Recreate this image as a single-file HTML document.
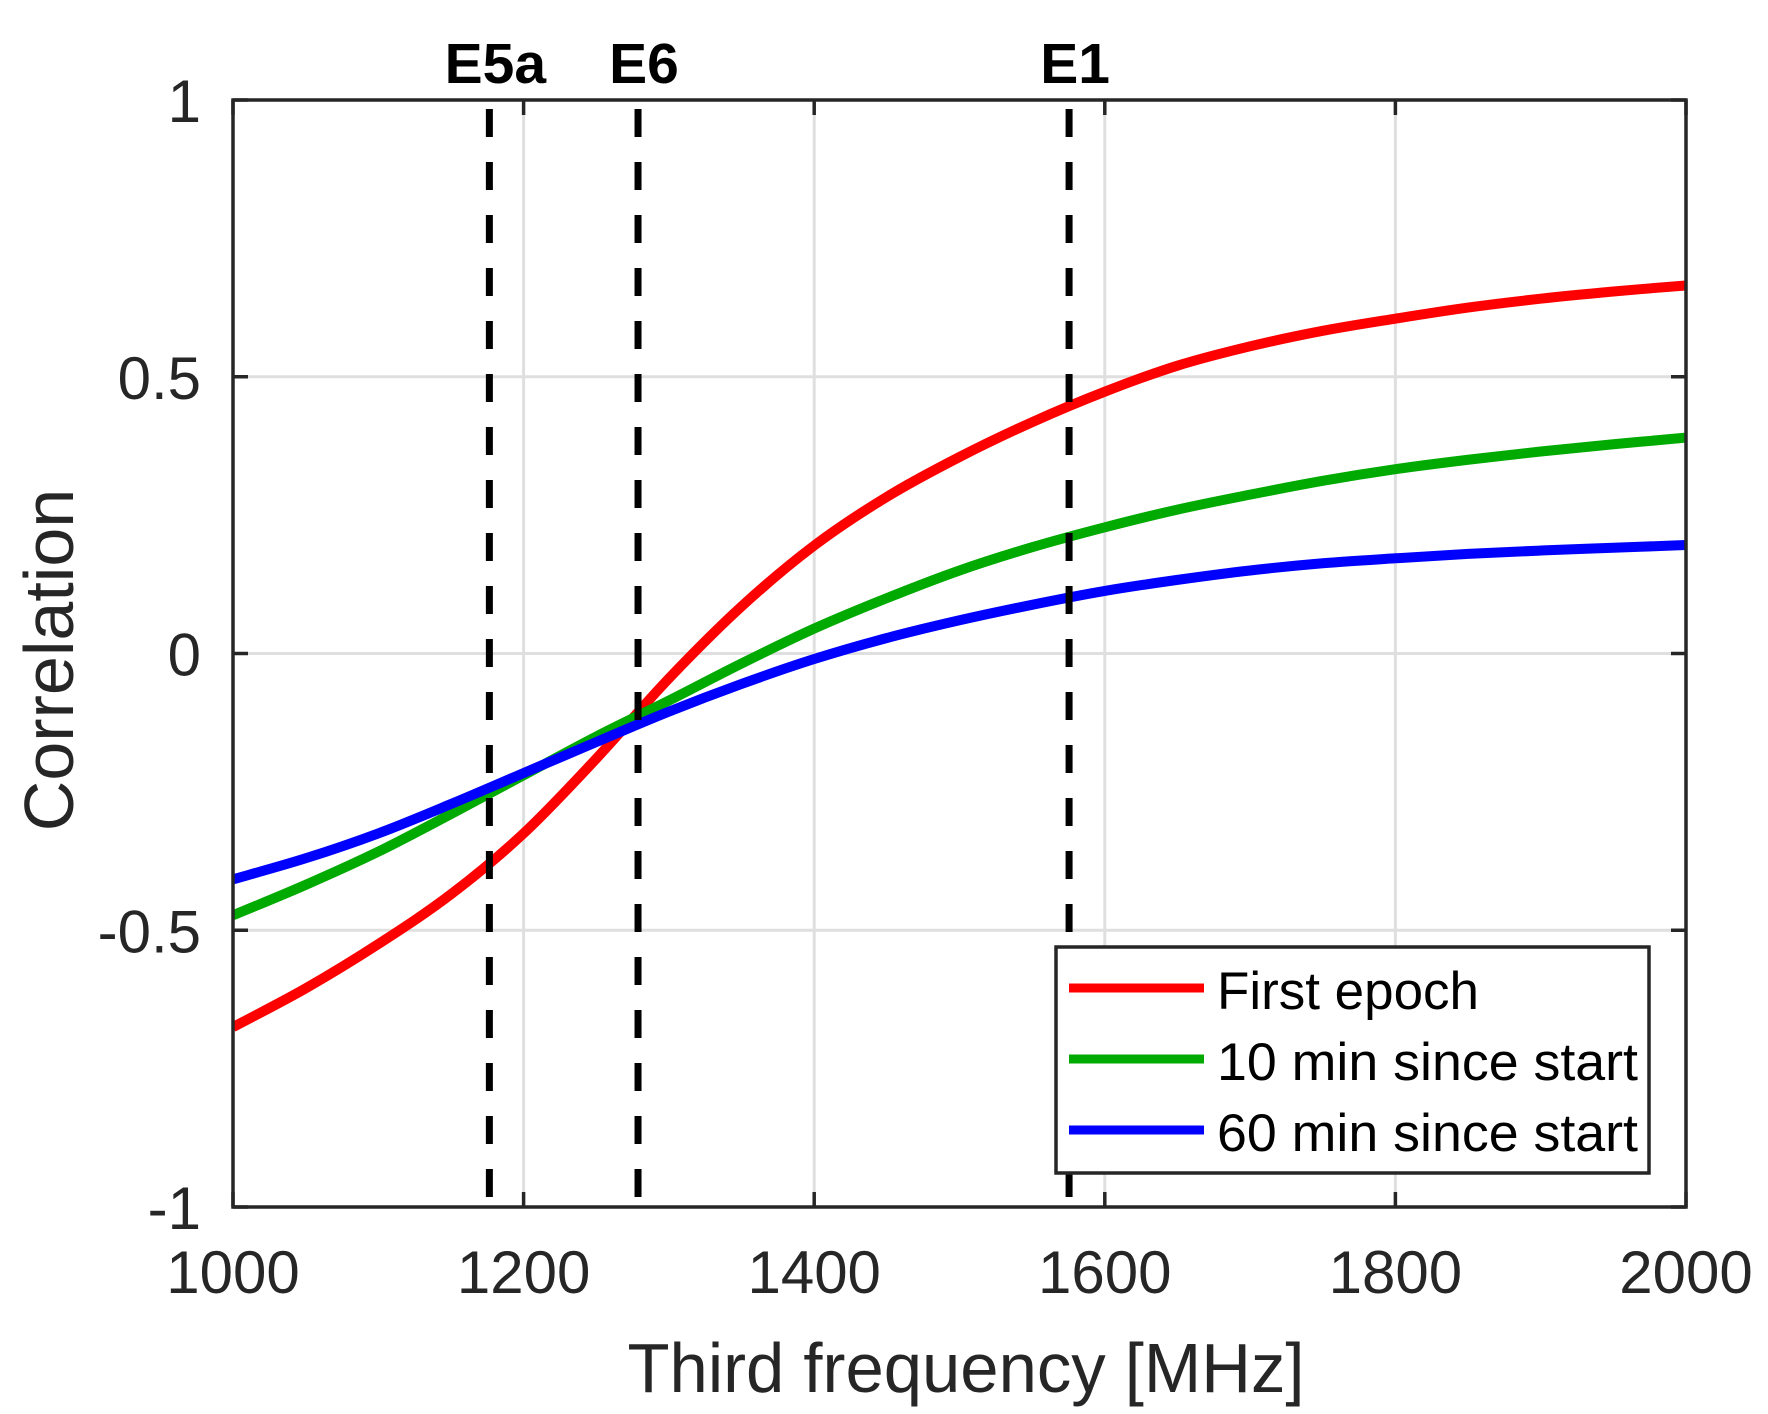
<!DOCTYPE html>
<html><head><meta charset="utf-8"><style>
html,body{margin:0;padding:0;background:#fff;}
svg{display:block;font-family:"Liberation Sans",Arial,sans-serif;}
</style></head><body>
<svg id="chart" width="1768" height="1414" viewBox="0 0 1768 1414" xmlns="http://www.w3.org/2000/svg"></svg>
<script>
const xCats = [1000,1050,1100,1150,1200,1250,1300,1350,1400,1450,1500,1550,1600,1650,1700,1750,1800,1850,1900,1950,2000];
const firstEpoch = [-0.675,-0.605,-0.525,-0.435,-0.325,-0.19,-0.045,0.085,0.195,0.283,0.355,0.418,0.473,0.52,0.555,0.583,0.605,0.625,0.641,0.654,0.665];
const min10 = [-0.473,-0.418,-0.358,-0.29,-0.22,-0.15,-0.085,-0.018,0.045,0.10,0.15,0.192,0.228,0.26,0.287,0.312,0.333,0.35,0.365,0.378,0.39];
const min60 = [-0.408,-0.37,-0.325,-0.272,-0.216,-0.16,-0.105,-0.055,-0.01,0.028,0.06,0.088,0.113,0.133,0.15,0.163,0.172,0.18,0.186,0.191,0.196];
const xTicks = [1000,1200,1400,1600,1800,2000];
const yTicks = [-1,-0.5,0,0.5,1];
const yTickLabels = ["-1","-0.5","0","0.5","1"];
const bandFreqs = [1176.45,1278.75,1575.42];
const bandNames = ["E5a","E6","E1"];
const seriesNames = ["First epoch","10 min since start","60 min since start"];

const NS="http://www.w3.org/2000/svg";
const svg=document.getElementById('chart');
const L=233,R=1686,T=100,B=1207;
const xs=v=>L+(v-1000)/1000*(R-L);
const ys=v=>T+(1-v)/2*(B-T);
function mk(tag,attrs,parent){const e=document.createElementNS(NS,tag);for(const k in attrs)e.setAttribute(k,attrs[k]);(parent||svg).appendChild(e);return e;}

xTicks.forEach(t=>{
  if(t===1000||t===2000)return;
  const g=mk('line',{x1:xs(t),x2:xs(t),y1:T,y2:B,stroke:'#dfdfdf','stroke-width':3});
  
  
});
yTicks.forEach(t=>{
  if(t===1||t===-1)return;
  const g=mk('line',{x1:L,x2:R,y1:ys(t),y2:ys(t),stroke:'#dfdfdf','stroke-width':3});
  
  
});

function pathFrom(vals){
  const p=xCats.map((x,i)=>[xs(x),ys(vals[i])]);
  let d='M'+p[0][0]+','+p[0][1];
  for(let i=0;i<p.length-1;i++){
    const p0=p[i-1]||p[i],p1=p[i],p2=p[i+1],p3=p[i+2]||p2;
    const c1x=p1[0]+(p2[0]-p0[0])/6,c1y=p1[1]+(p2[1]-p0[1])/6;
    const c2x=p2[0]-(p3[0]-p1[0])/6,c2y=p2[1]-(p3[1]-p1[1])/6;
    d+=' C'+c1x+','+c1y+' '+c2x+','+c2y+' '+p2[0]+','+p2[1];
  }
  return d;
}
const colors=['#ff0000','#00aa00','#0000ff'];
const seriesData=[firstEpoch,min10,min60];
const seriesKeys=['first-epoch-line','10-min-line','60-min-line'];
const clip=mk('clipPath',{id:'pa'});mk('rect',{x:L,y:T,width:R-L,height:B-T},clip);
seriesData.forEach((vals,i)=>{
  const pth=mk('path',{d:pathFrom(vals),fill:'none',stroke:colors[i],'stroke-width':10,'clip-path':'url(#pa)'});
  
  
});

bandFreqs.forEach((f,i)=>{
  const ln=mk('line',{x1:xs(f),x2:xs(f),y1:T,y2:B,stroke:'#000','stroke-width':7,'stroke-dasharray':'28 25','stroke-dashoffset':44});
  
  
  const tx=mk('text',{x:xs(f)+6,y:83,'font-size':57,'font-weight':'bold','text-anchor':'middle',fill:'#000'});
  tx.textContent=bandNames[i];
  
  
});

const box=mk('rect',{x:L,y:T,width:R-L,height:B-T,fill:'none',stroke:'#262626','stroke-width':3.5});



xTicks.forEach(t=>{
  mk('line',{x1:xs(t),x2:xs(t),y1:B,y2:B-15,stroke:'#262626','stroke-width':3.5});
  mk('line',{x1:xs(t),x2:xs(t),y1:T,y2:T+15,stroke:'#262626','stroke-width':3.5});
  const tx=mk('text',{x:xs(t),y:1293,'font-size':60,'text-anchor':'middle',fill:'#262626'});
  tx.textContent=String(t);
  
  
});
yTicks.forEach((t,i)=>{
  mk('line',{x1:L,x2:L+15,y1:ys(t),y2:ys(t),stroke:'#262626','stroke-width':3.5});
  mk('line',{x1:R,x2:R-15,y1:ys(t),y2:ys(t),stroke:'#262626','stroke-width':3.5});
  const tx=mk('text',{x:201,y:ys(t)+22,'font-size':60,'text-anchor':'end',fill:'#262626'});
  tx.textContent=yTickLabels[i];
  
  
});

const xt=mk('text',{x:966,y:1392,'font-size':70,'text-anchor':'middle',fill:'#262626',textLength:677,lengthAdjust:'spacingAndGlyphs'});
xt.textContent='Third frequency [MHz]';


const yt=mk('text',{x:0,y:0,'font-size':70,'text-anchor':'middle',fill:'#262626',transform:'translate(73,660) rotate(-90)'});
yt.textContent='Correlation';



const lg=mk('g',{});


mk('rect',{x:1056,y:947,width:593,height:226,fill:'#fff',stroke:'#262626','stroke-width':3.5},lg);
seriesNames.forEach((n,i)=>{
  const yy=988+i*71;
  const ln=mk('line',{x1:1069,x2:1204,y1:yy,y2:yy,stroke:colors[i],'stroke-width':9},lg);
  
  
  const tx=mk('text',{x:1217,y:yy+21,'font-size':53,fill:'#000'},lg);
  if(i>0){tx.setAttribute('textLength',421);tx.setAttribute('lengthAdjust','spacingAndGlyphs');}
  else{tx.setAttribute('textLength',262);tx.setAttribute('lengthAdjust','spacingAndGlyphs');}
  tx.textContent=n;
  
  
});
</script>
</body></html>
